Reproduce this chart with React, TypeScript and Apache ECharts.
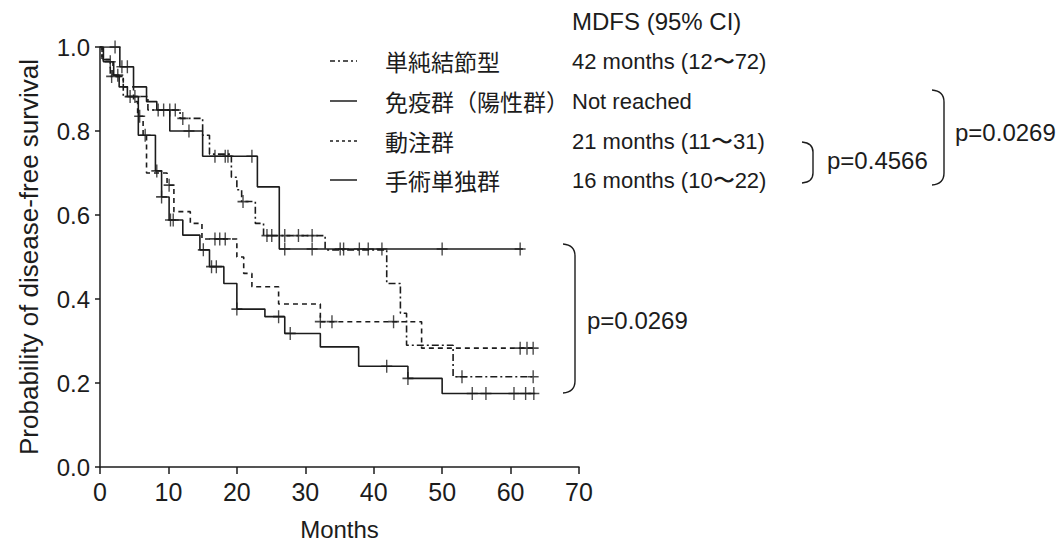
import React, { useEffect, useRef } from "react";
import * as echarts from "echarts";

// ---- data ----
const groupNames = ["単純結節型", "免疫群（陽性群）", "動注群", "手術単独群"];
const mdfsLabels = ["42 months (12〜72)", "Not reached", "21 months (11〜31)", "16 months (10〜22)"];
const mdfsHeader = "MDFS (95% CI)";
const pValues = ["p=0.4566", "p=0.0269", "p=0.0269"];

const nodularT = [0, 0.3, 1.5, 3.4, 7.0, 11.7, 15.0, 16.0, 19.2, 20.0, 20.7, 22.7, 23.9, 32.9, 41.9, 43.9, 44.8, 51.6, 63.3];
const nodularS = [1.0, 0.97, 0.93, 0.882, 0.85, 0.83, 0.79, 0.745, 0.69, 0.66, 0.632, 0.58, 0.551, 0.517, 0.437, 0.366, 0.29, 0.215, 0.215];
const nodularCensor = [1.7, 4.4, 5.1, 10.2, 11.0, 12.1, 20.9, 24.4, 25.1, 27.0, 29.0, 31.0, 52.9, 63.3];

const immuneT = [0, 2.9, 4.9, 6.8, 8.3, 10.2, 15.0, 23.0, 26.2, 61.8];
const immuneS = [1.0, 0.953, 0.905, 0.87, 0.85, 0.8, 0.74, 0.667, 0.519, 0.519];
const immuneCensor = [2.2, 3.2, 4.0, 8.5, 9.3, 13.0, 16.8, 18.3, 18.7, 22.2, 27.0, 31.0, 35.1, 35.6, 37.9, 39.2, 41.2, 50.0, 61.4];

const hepaticT = [0, 0.3, 1.9, 3.4, 4.9, 5.5, 6.3, 6.8, 9.8, 10.8, 13.2, 14.9, 20.0, 21.0, 22.2, 26.1, 32.2, 47.0, 63.6];
const hepaticS = [1.0, 0.97, 0.93, 0.905, 0.87, 0.835, 0.79, 0.7, 0.671, 0.608, 0.58, 0.543, 0.5, 0.461, 0.429, 0.388, 0.346, 0.283, 0.283];
const hepaticCensor = [5.8, 10.1, 16.8, 17.5, 18.3, 32.2, 33.9, 42.9, 61.4, 62.4, 63.3];

const surgeryT = [0, 0.5, 2.0, 2.8, 4.0, 5.6, 8.1, 9.0, 10.1, 12.1, 14.6, 16.0, 18.1, 20.0, 24.1, 27.0, 32.2, 37.8, 45.0, 50.0, 63.6];
const surgeryS = [1.0, 0.965, 0.933, 0.905, 0.882, 0.79, 0.705, 0.643, 0.588, 0.552, 0.517, 0.477, 0.437, 0.376, 0.358, 0.318, 0.286, 0.24, 0.211, 0.175, 0.175];
const surgeryCensor = [1.5, 2.6, 6.6, 8.3, 9.0, 10.3, 10.7, 15.1, 16.3, 17.0, 20.0, 26.1, 27.8, 41.9, 45.0, 54.4, 56.4, 60.5, 62.2, 63.4];

const INK = "#1c1c1c";
const LATIN = '"Liberation Sans", Arial, sans-serif';
const CJK = '"Noto Sans CJK JP", "Noto Sans CJK SC", sans-serif';

function survAt(ts: number[], ss: number[], t: number) {
  let s = ss[0];
  for (let i = 0; i < ts.length; i++) if (ts[i] <= t) s = ss[i];
  return s;
}

const groups = [
  { t: nodularT, s: nodularS, c: nodularCensor, dash: [7, 3, 2, 3] as any },
  { t: immuneT, s: immuneS, c: immuneCensor, dash: "solid" as any },
  { t: hepaticT, s: hepaticS, c: hepaticCensor, dash: [5, 4] as any },
  { t: surgeryT, s: surgeryS, c: surgeryCensor, dash: "solid" as any },
];

let registered = false;
function registerShapes() {
  if (registered) return;
  registered = true;
  echarts.graphic.registerShape(
    "bracketSmall",
    echarts.graphic.extendPath("M802,142 Q813,143 813,152 L813,173 Q813,182 802,183", {}) as any
  );
  echarts.graphic.registerShape(
    "bracketTop",
    echarts.graphic.extendPath("M932,90 Q944,91 944,102 L944,173 Q944,184 932,185", {}) as any
  );
  echarts.graphic.registerShape(
    "bracketLow",
    echarts.graphic.extendPath("M563,244 Q575,245 575,256 L575,381 Q575,392 563,393", {}) as any
  );
}

export default function App() {
  const ref = useRef<HTMLDivElement>(null);
  useEffect(() => {
    if (!ref.current) return;
    registerShapes();
    const chart = echarts.init(ref.current, undefined, { renderer: "svg" });

    const series: any[] = [];
    groups.forEach((g, gi) => {
      series.push({
        type: "line",
        name: groupNames[gi],
        step: "end",
        showSymbol: false,
        data: g.t.map((t, i) => [t, g.s[i]]),
        lineStyle: { color: INK, width: 1.6, type: g.dash },
        z: 2,
      });
      series.push({
        type: "scatter",
        name: groupNames[gi] + " censored",
        symbol: "path://M5,0L5,12M0,6L10,6",
        symbolSize: [11, 13],
        data: g.c.map((t) => [t, survAt(g.t, g.s, t)]),
        itemStyle: { color: "transparent", borderColor: INK, borderWidth: 1.5 },
        z: 3,
      });
    });

    const rowY = [61, 101, 141, 180];
    const graphics: any[] = [];
    graphics.push({
      type: "text",
      style: { text: mdfsHeader, x: 572, y: 21, fontSize: 24, fontFamily: LATIN, fill: INK, textAlign: "left", textVerticalAlign: "middle" },
    });
    rowY.forEach((y, i) => {
      const dash = groups[i].dash;
      graphics.push({
        type: "line",
        shape: { x1: 330, y1: y, x2: 357, y2: y },
        style: { stroke: INK, lineWidth: 1.5, lineDash: Array.isArray(dash) ? (i === 0 ? [5, 3, 2, 3] : [3, 3]) : null },
      });
      graphics.push({
        type: "text",
        style: { text: groupNames[i], x: 385, y, fontSize: 23, fontFamily: CJK, fill: INK, textAlign: "left", textVerticalAlign: "middle" },
      });
      graphics.push({
        type: "text",
        style: { text: mdfsLabels[i], x: 572, y, fontSize: 22, fontFamily: LATIN, fill: INK, textAlign: "left", textVerticalAlign: "middle" },
      });
    });
    ["bracketSmall", "bracketTop", "bracketLow"].forEach((name) => {
      graphics.push({ type: name, x: 0, y: 0, style: { stroke: INK, lineWidth: 1.4, fill: "none" } });
    });
    graphics.push({
      type: "text",
      style: { text: pValues[0], x: 827, y: 160, fontSize: 24, fontFamily: LATIN, fill: INK, textAlign: "left", textVerticalAlign: "middle" },
    });
    graphics.push({
      type: "text",
      style: { text: pValues[1], x: 955, y: 132, fontSize: 24, fontFamily: LATIN, fill: INK, textAlign: "left", textVerticalAlign: "middle" },
    });
    graphics.push({
      type: "text",
      style: { text: pValues[2], x: 587, y: 320, fontSize: 24, fontFamily: LATIN, fill: INK, textAlign: "left", textVerticalAlign: "middle" },
    });

    chart.setOption({
      animation: false,
      backgroundColor: "#ffffff",
      grid: { left: 100, right: 484, top: 47, bottom: 76, containLabel: false, outerBoundsMode: "none" },
      xAxis: {
        type: "value",
        min: 0,
        max: 70,
        interval: 10,
        name: "Months",
        nameLocation: "middle",
        nameGap: 50,
        nameTextStyle: { fontSize: 24, fontFamily: LATIN, color: INK },
        axisLine: { lineStyle: { color: INK, width: 1.5 } },
        axisTick: { length: 7, lineStyle: { color: INK, width: 1.5 } },
        axisLabel: { fontSize: 25, fontFamily: LATIN, color: INK, margin: 12 },
        splitLine: { show: false },
      },
      yAxis: {
        type: "value",
        min: 0,
        max: 1,
        interval: 0.2,
        name: "Probability of disease-free survival",
        nameLocation: "middle",
        nameGap: 58,
        nameTextStyle: { fontSize: 26, fontFamily: LATIN, color: INK },
        axisLine: { show: true, lineStyle: { color: INK, width: 1.5 } },
        axisTick: { show: true, length: 5, lineStyle: { color: INK, width: 1.5 } },
        axisLabel: { fontSize: 24, fontFamily: LATIN, color: INK, margin: 10, formatter: (v: number) => v.toFixed(1) },
        splitLine: { show: false },
      },
      series,
      graphic: { elements: graphics },
    });
    return () => chart.dispose();
  }, []);
  return (
    <div
      ref={ref}
      style={{ position: "fixed", left: 0, top: 0, width: 1063, height: 543, background: "#fff" }}
    />
  );
}
